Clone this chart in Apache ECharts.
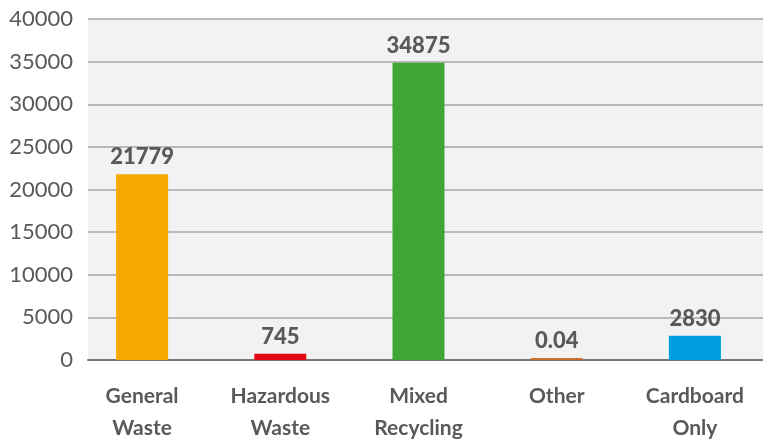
<!DOCTYPE html>
<html>
<head>
<meta charset="utf-8">
<script src="https://cdn.jsdelivr.net/npm/echarts@6/dist/echarts.min.js"></script>
<style>
  html, body { margin: 0; padding: 0; background: #ffffff; }
  #chart { width: 763px; height: 441px; }
</style>
</head>
<body>
<div id="chart"></div>
<script>
// Waste quantities by stream
const categories = ['General\nWaste', 'Hazardous\nWaste', 'Mixed\nRecycling', 'Other', 'Cardboard\nOnly'];
const values = [21779, 745, 34875, 0.04, 2830];
const barColors = ['#f7a800', '#e30613', '#3fa535', '#c8702e', '#009fe3'];
const yTicks = { min: 0, max: 40000, interval: 5000 };

const FONT = 'Lato';
const TEXT = '#595959';

const chart = echarts.init(document.getElementById('chart'));
chart.setOption({
  animation: false,
  textStyle: { fontFamily: FONT },
  grid: [
    // plot panel: background, gridlines, value axis
    { left: 88, right: 0, top: 19, bottom: 81, show: true, backgroundColor: '#f2f2f2', borderWidth: 0, outerBoundsMode: 'none', containLabel: false },
    // bar layout
    { left: 73, right: -1, top: 19, bottom: 81, outerBoundsMode: 'none', containLabel: false }
  ],
  xAxis: [
    {
      gridIndex: 0, type: 'category', data: categories,
      axisLine: { show: true, lineStyle: { color: '#767676', width: 2 } },
      axisTick: { show: false }, axisLabel: { show: false }
    },
    {
      gridIndex: 1, type: 'category', data: categories,
      axisLine: { show: false }, axisTick: { show: false },
      axisLabel: {
        color: TEXT, fontFamily: FONT, fontSize: 21, fontWeight: 'bold',
        lineHeight: 32, margin: 20, interval: 0
      }
    }
  ],
  yAxis: [
    {
      gridIndex: 0, type: 'value', min: yTicks.min, max: yTicks.max, interval: yTicks.interval,
      axisLine: { show: false }, axisTick: { show: false },
      splitLine: { lineStyle: { color: '#a6a6a6', width: 1.5 } },
      axisLabel: { color: TEXT, fontFamily: FONT, fontSize: 22, margin: 15, formatter: v => String(v) }
    },
    {
      gridIndex: 1, type: 'value', min: yTicks.min, max: yTicks.max, interval: yTicks.interval,
      show: false, splitLine: { show: false }
    }
  ],
  series: [{
    type: 'bar',
    xAxisIndex: 1, yAxisIndex: 1,
    barWidth: 52,
    barMinHeight: 2,
    data: values.map((v, i) => ({ value: v, itemStyle: { color: barColors[i] } })),
    label: {
      show: true, position: 'top', distance: 6,
      color: TEXT, fontFamily: FONT, fontSize: 22, fontWeight: 900,
      formatter: p => String(values[p.dataIndex])
    }
  }]
});
</script>
</body>
</html>
